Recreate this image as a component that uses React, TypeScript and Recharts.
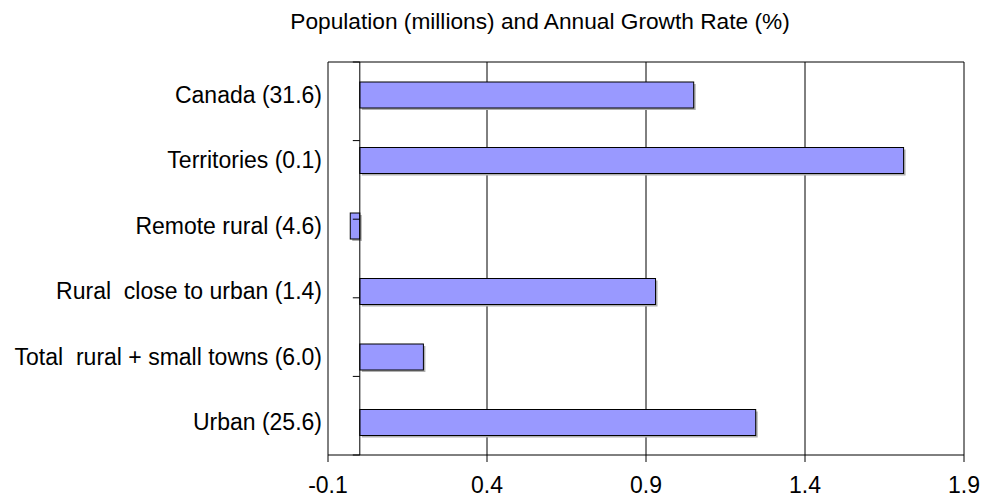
import React from 'react';
import {
  BarChart,
  Bar,
  XAxis,
  YAxis,
  CartesianGrid,
  ReferenceLine,
} from 'recharts';

const regions = [
  'Canada (31.6)',
  'Territories (0.1)',
  'Remote rural (4.6)',
  'Rural  close to urban (1.4)',
  'Total  rural + small towns (6.0)',
  'Urban (25.6)',
];
const growthRates = [1.05, 1.71, -0.03, 0.93, 0.2, 1.245];
const xTicks = [-0.1, 0.4, 0.9, 1.4, 1.9];
const bandEdges = [0, 1, 2, 3, 4, 5, 6];

const data = regions.map((name, i) => ({ name, growth: growthRates[i] }));

const FONT = '"Liberation Sans", Arial, sans-serif';

// bar with a small grey drop shadow, like the old spreadsheet look
const ShadowBar = (props: any) => {
  const { x, y, width, height } = props;
  const left = Math.min(x, x + width);
  const w = Math.abs(width);
  return (
    <g>
      <rect x={left + 2} y={y + 2} width={w} height={height} fill="#b0b0b0" />
      <rect x={left} y={y} width={w} height={height} fill="#9999FF" stroke="#000" strokeWidth={1} />
    </g>
  );
};

const CategoryTick = (props: any) => {
  const { x, y, payload } = props;
  return (
    <text
      x={x}
      y={y}
      textAnchor="end"
      dominantBaseline="central"
      fontSize={23}
      fontFamily={FONT}
      fill="#000"
      style={{ whiteSpace: 'pre' }}
    >
      {payload.value}
    </text>
  );
};

export default function App() {
  return (
    <div style={{ position: 'absolute', left: 0, top: 0, width: 981, height: 499, background: '#fff' }}>
      <svg width={981} height={40} style={{ position: 'absolute', left: 0, top: 0 }}>
        <text x={540} y={29} textAnchor="middle" fontSize={22.7} fontFamily={FONT} fill="#000">
          Population (millions) and Annual Growth Rate (%)
        </text>
      </svg>
      <BarChart
        width={981}
        height={499}
        data={data}
        layout="vertical"
        margin={{ top: 62, right: 17, bottom: 0, left: 0 }}
      >
        <CartesianGrid horizontal={false} stroke="#000" />
        <XAxis
          type="number"
          domain={[-0.1, 1.9]}
          ticks={xTicks}
          allowDataOverflow
          tickFormatter={(v: number) => v.toFixed(1)}
          height={44}
          tickSize={7}
          tickMargin={15}
          stroke="#000"
          tick={{ fill: '#000', fontSize: 23, fontFamily: FONT }}
        />
        <YAxis
          type="category"
          dataKey="name"
          width={328}
          axisLine={false}
          tickLine={false}
          tickSize={0}
          tickMargin={6}
          tick={<CategoryTick />}
        />
        <YAxis yAxisId="band" type="number" domain={[0, 6]} hide />
        <ReferenceLine yAxisId="band" y={6} stroke="#000" />
        <ReferenceLine yAxisId="band" y={0} stroke="#000" />
        <ReferenceLine x={0} stroke="#000" />
        {bandEdges.map((e) => (
          <ReferenceLine
            key={e}
            yAxisId="band"
            segment={[{ x: -0.022, y: e }, { x: 0, y: e }]}
            stroke="#000"
          />
        ))}
        <Bar dataKey="growth" barSize={26} shape={<ShadowBar />} isAnimationActive={false} />
      </BarChart>
    </div>
  );
}
